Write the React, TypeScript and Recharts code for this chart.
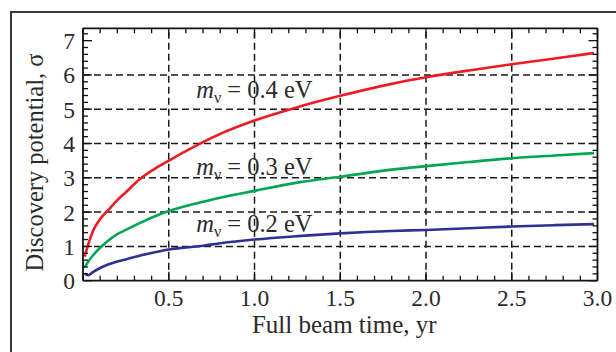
import React from 'react';
import { LineChart, Line, XAxis, YAxis, ReferenceLine, ReferenceDot } from 'recharts';

const xValues = [0.01, 0.03, 0.06, 0.1, 0.15, 0.2, 0.25, 0.33, 0.42, 0.5, 0.6, 0.7, 0.8, 1.0, 1.25, 1.5, 1.8, 2.0, 2.25, 2.5, 2.75, 2.98];
const sigma04 = [0.7, 1.05, 1.47, 1.8, 2.07, 2.35, 2.58, 2.96, 3.27, 3.5, 3.78, 4.04, 4.28, 4.67, 5.06, 5.39, 5.74, 5.93, 6.13, 6.31, 6.48, 6.64];
const sigma03 = [0.39, 0.55, 0.75, 0.96, 1.18, 1.36, 1.48, 1.68, 1.88, 2.03, 2.18, 2.3, 2.42, 2.62, 2.86, 3.03, 3.24, 3.34, 3.46, 3.57, 3.65, 3.72];
const sigma02 = [0.21, 0.16, 0.26, 0.37, 0.48, 0.56, 0.62, 0.73, 0.83, 0.91, 0.97, 1.02, 1.09, 1.2, 1.3, 1.38, 1.45, 1.48, 1.53, 1.58, 1.62, 1.65];

const xMajorTicks = [0.5, 1.0, 1.5, 2.0, 2.5, 3.0];
const xAllTicks = [0, 0.1, 0.2, 0.3, 0.4, 0.5, 0.6, 0.7, 0.8, 0.9, 1.0, 1.1, 1.2, 1.3, 1.4, 1.5, 1.6, 1.7, 1.8, 1.9, 2.0, 2.1, 2.2, 2.3, 2.4, 2.5, 2.6, 2.7, 2.8, 2.9, 3.0];
const yMajorTicks = [0, 1, 2, 3, 4, 5, 6, 7];
const yAllTicks = [0, 0.2, 0.4, 0.6, 0.8, 1, 1.2, 1.4, 1.6, 1.8, 2, 2.2, 2.4, 2.6, 2.8, 3, 3.2, 3.4, 3.6, 3.8, 4, 4.2, 4.4, 4.6, 4.8, 5, 5.2, 5.4, 5.6, 5.8, 6, 6.2, 6.4, 6.6, 6.8, 7, 7.2];
const xGrid = [0.5, 1.0, 1.5, 2.0, 2.5];
const yGrid = [1, 2, 3, 4, 5, 6];

const annX = [0.66, 0.66, 0.66];
const annY = [5.33, 3.08, 1.42];
const annMass = ['0.4', '0.3', '0.2'];

const data = xValues.map((x, i) => ({ x, s04: sigma04[i], s03: sigma03[i], s02: sigma02[i] }));

const FONT = '"Liberation Serif", "Times New Roman", serif';
const INK = '#111';
const TEXT = '#2a2a2a';

const near = (a: number, list: number[]) => list.some((b) => Math.abs(a - b) < 1e-6);

const BottomTick = (props: any) => {
  const { x, y, payload } = props;
  const v = payload.value;
  const major = near(v, xMajorTicks);
  return (
    <g>
      <line x1={x} x2={x} y1={y} y2={y - (major ? 9 : 5)} stroke={INK} strokeWidth={1.3} />
      {major && (
        <text x={x} y={y + 25.5} textAnchor="middle" fontFamily={FONT} fontSize={23.5} fill={TEXT}>
          {v.toFixed(1)}
        </text>
      )}
    </g>
  );
};

const TopTick = (props: any) => {
  const { x, y, payload } = props;
  const major = near(payload.value, xMajorTicks);
  return <line x1={x} x2={x} y1={y} y2={y + (major ? 9 : 5)} stroke={INK} strokeWidth={1.3} />;
};

const LeftTick = (props: any) => {
  const { x, y, payload } = props;
  const v = payload.value;
  const major = near(v, yMajorTicks);
  return (
    <g>
      <line x1={x} x2={x + (major ? 9 : 5)} y1={y} y2={y} stroke={INK} strokeWidth={1.3} />
      {major && (
        <text x={x - 8} y={y + 8.5} textAnchor="end" fontFamily={FONT} fontSize={23.5} fill={TEXT}>
          {String(v)}
        </text>
      )}
    </g>
  );
};

const RightTick = (props: any) => {
  const { x, y, payload } = props;
  const major = near(payload.value, yMajorTicks);
  return <line x1={x} x2={x - (major ? 9 : 5)} y1={y} y2={y} stroke={INK} strokeWidth={1.3} />;
};

const XTitle = (props: any) => {
  const vb = props.viewBox || { x: 83, y: 281, width: 514, height: 40 };
  return (
    <text x={vb.x + vb.width / 2 + 4} y={vb.y + 52} textAnchor="middle" fontFamily={FONT} fontSize={25} fill={TEXT}>
      Full beam time, yr
    </text>
  );
};

const YTitle = (props: any) => {
  const vb = props.viewBox || { x: 0, y: 28, width: 83, height: 252 };
  const cx = vb.x + 43;
  const cy = vb.y + vb.height / 2 + 8;
  return (
    <text x={cx} y={cy} transform={`rotate(-90, ${cx}, ${cy})`} textAnchor="middle" fontFamily={FONT} fontSize={24.5} fill={TEXT}>
      Discovery potential, σ
    </text>
  );
};

const makeAnnotation = (mass: string) => (props: any) => {
  const { cx, cy } = props;
  return (
    <text x={cx} y={cy} fontFamily={FONT} fontSize={24.5} fill={TEXT}>
      <tspan fontStyle="italic">m</tspan>
      <tspan fontSize={16} dy={5}>ν</tspan>
      <tspan dy={-5}>{` = ${mass} eV`}</tspan>
    </text>
  );
};

export default function App() {
  return (
    <div style={{ position: 'absolute', left: 0, top: 0, width: 616, height: 352, background: '#fff', overflow: 'hidden' }}>
      <div
        style={{
          position: 'absolute',
          left: 10,
          top: 11,
          width: 640,
          height: 380,
          borderLeft: '2px solid #3a3a3a',
          borderTop: '2px solid #3a3a3a',
        }}
      />
      <div style={{ position: 'absolute', left: 0, top: 0 }}>
        <LineChart width={616} height={352} data={data} margin={{ top: 27.3, right: 17.5, bottom: 31.3, left: 0 }}>
          <XAxis
            xAxisId="b"
            dataKey="x"
            type="number"
            domain={[0, 3]}
            allowDataOverflow
            ticks={xAllTicks}
            interval={0}
            tick={<BottomTick />}
            tickLine={false}
            tickSize={0}
            tickMargin={0}
            height={40}
            axisLine={{ stroke: INK, strokeWidth: 1.8 }}
            label={<XTitle />}
          />
          <XAxis
            xAxisId="t"
            orientation="top"
            dataKey="x"
            type="number"
            domain={[0, 3]}
            allowDataOverflow
            ticks={xAllTicks}
            interval={0}
            tick={<TopTick />}
            tickLine={false}
            tickSize={0}
            tickMargin={0}
            height={1}
            axisLine={{ stroke: INK, strokeWidth: 1.8 }}
          />
          <YAxis
            yAxisId="l"
            type="number"
            domain={[0, 7.36]}
            allowDataOverflow
            ticks={yAllTicks}
            interval={0}
            tick={<LeftTick />}
            tickLine={false}
            tickSize={0}
            tickMargin={0}
            width={83}
            axisLine={{ stroke: INK, strokeWidth: 1.8 }}
            label={<YTitle />}
          />
          <YAxis
            yAxisId="r"
            orientation="right"
            type="number"
            domain={[0, 7.36]}
            allowDataOverflow
            ticks={yAllTicks}
            interval={0}
            tick={<RightTick />}
            tickLine={false}
            tickSize={0}
            tickMargin={0}
            width={1}
            axisLine={{ stroke: INK, strokeWidth: 1.8 }}
          />
          {xGrid.map((g) => (
            <ReferenceLine key={`gx${g}`} xAxisId="b" yAxisId="l" x={g} stroke="#1a1a1a" strokeWidth={1.5} strokeDasharray="7 4" />
          ))}
          {yGrid.map((g) => (
            <ReferenceLine key={`gy${g}`} xAxisId="b" yAxisId="l" y={g} stroke="#1a1a1a" strokeWidth={1.5} strokeDasharray="7 4" />
          ))}
          <Line xAxisId="b" yAxisId="l" type="monotone" dataKey="s04" stroke="#ed1c24" strokeWidth={2.6} dot={false} isAnimationActive={false} />
          <Line xAxisId="b" yAxisId="l" type="monotone" dataKey="s03" stroke="#00a651" strokeWidth={2.6} dot={false} isAnimationActive={false} />
          <Line xAxisId="b" yAxisId="l" type="monotone" dataKey="s02" stroke="#2e3192" strokeWidth={2.6} dot={false} isAnimationActive={false} />
          {annMass.map((m, i) => (
            <ReferenceDot
              key={`ann${m}`}
              xAxisId="b"
              yAxisId="l"
              x={annX[i]}
              y={annY[i]}
              r={0}
              ifOverflow="visible"
              shape={makeAnnotation(m)}
            />
          ))}
        </LineChart>
      </div>
    </div>
  );
}
